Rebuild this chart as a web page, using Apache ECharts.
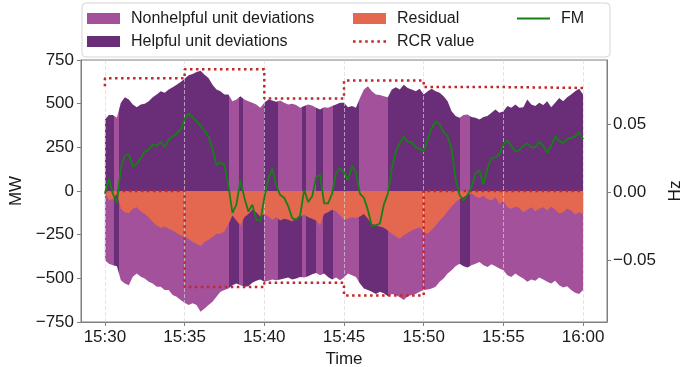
<!DOCTYPE html>
<html>
<head>
<meta charset="utf-8">
<script src="https://cdn.jsdelivr.net/npm/echarts@6/dist/echarts.min.js"></script>
<style>
  html, body { margin: 0; padding: 0; background: #fff; }
  #chart { width: 695px; height: 367px; }
</style>
</head>
<body>
<div id="chart"></div>
<script>
// sampled every 15 s from 15:30:00 to 16:00:00
const startTime = '15:30:00'
const stepSeconds = 15

const upperDeviation = [
  410, 435, 435, 420, 505, 537, 524, 495, 480, 495, 499, 514, 537, 552, 571, 562, 581, 594, 609, 624, 643, 662, 670, 681, 689, 666, 647, 609, 581, 571, 552,
  552, 514, 524, 543, 524, 514, 505, 495, 476, 505, 524, 518, 511, 518, 505, 495, 499, 492, 476, 486, 495, 490, 476, 467, 480, 476, 486, 495, 505,
  505, 480, 486, 476, 533, 581, 600, 571, 552, 549, 543, 537, 581, 594, 581, 609, 590, 581, 571, 586, 552, 571, 586, 571, 562, 543, 514, 457, 429, 420,
  435, 438, 423, 419, 410, 423, 429, 448, 467, 448, 457, 486, 476, 495, 476, 480, 524, 495, 486, 505, 492, 514, 480, 505, 533, 514, 537, 552, 571, 586, 552
]
const lowerDeviation = [
  -397, -416, -425, -431, -511, -529, -539, -491, -472, -491, -501, -520, -529, -548, -548, -567, -567, -596, -605, -624, -640, -653, -643, -653, -691, -672, -653, -634, -605, -577, -567,
  -558, -539, -529, -539, -548, -545, -526, -514, -507, -520, -514, -507, -511, -507, -501, -495, -507, -501, -492, -495, -488, -476, -469, -482, -473, -492, -507, -495, -511,
  -495, -473, -482, -492, -529, -558, -567, -577, -590, -577, -586, -602, -590, -596, -609, -624, -602, -596, -590, -577, -567, -564, -558, -548, -520, -501, -473, -454, -431, -416,
  -431, -438, -425, -416, -406, -425, -435, -419, -431, -444, -454, -482, -492, -473, -488, -501, -520, -507, -514, -495, -507, -520, -529, -514, -539, -552, -545, -567, -583, -590, -567
]
const residual = [
  -8, -51, -46, -17, -102, -121, -127, -102, -93, -116, -131, -150, -178, -197, -211, -203, -216, -226, -241, -254, -264, -273, -292, -302, -317, -292, -279, -264, -245, -245, -230,
  -190, -140, -169, -197, -150, -131, -108, -121, -146, -131, -146, -165, -150, -169, -159, -165, -173, -159, -146, -135, -150, -159, -169, -197, -131, -121, -108, -116, -140,
  -165, -159, -150, -154, -146, -131, -159, -188, -197, -203, -211, -226, -245, -260, -273, -254, -241, -226, -216, -207, -235, -245, -222, -197, -169, -146, -116, -89, -65, -46,
  -36, -21, -13, -32, -40, -27, -46, -55, -36, -74, -55, -93, -102, -89, -97, -121, -108, -93, -116, -102, -93, -112, -89, -108, -127, -121, -102, -112, -135, -121, -131
]
const fm = [
  -0.001, 0.010, -0.001, -0.008, 0.018, 0.027, 0.028, 0.019, 0.021, 0.025, 0.030, 0.031, 0.035, 0.034, 0.037, 0.033, 0.039, 0.041, 0.043, 0.046, 0.054, 0.058, 0.055, 0.052, 0.049, 0.045, 0.041, 0.032, 0.020, 0.022, 0.020,
  0.005, -0.015, -0.009, 0.009, -0.004, -0.014, -0.009, -0.020, -0.021, -0.004, 0.010, 0.0175, 0.005, -0.002, -0.004, -0.010, -0.019, -0.020, -0.017, 0.002, -0.007, -0.003, 0.011, 0.013, -0.008, -0.008, -0.001, 0.014, 0.0175,
  0.015, 0.009, 0.019, 0.015, -0.001, -0.004, -0.013, -0.025, -0.024, -0.023, -0.009, -0.001, 0.0175, 0.030, 0.036, 0.041, 0.037, 0.037, 0.033, 0.032, 0.030, 0.039, 0.047, 0.052, 0.050, 0.044, 0.041, 0.032, 0.010, -0.002,
  -0.006, -0.002, 0.004, 0.014, 0.016, 0.006, 0.0175, 0.025, 0.026, 0.028, 0.035, 0.038, 0.034, 0.030, 0.031, 0.034, 0.036, 0.033, 0.033, 0.037, 0.034, 0.029, 0.034, 0.041, 0.038, 0.036, 0.039, 0.040, 0.041, 0.044, 0.039
]

// minutes after 15:30 where upward deviations are helpful (downward ones are then nonhelpful)
const helpfulUpSpans = [
  [0, 0.55], [0.88, 7.77], [8.4, 8.65], [10.0, 10.87], [12.38, 12.62],
  [13.25, 13.7], [14.3, 15.92], [17.77, 22.25], [22.88, 30]
]

const rcrTimes = ['15:30:00', '15:30:00', '15:35:00', '15:40:00', '15:45:00', '15:50:00', '15:55:00', '16:00:00']
const rcrUp = [600, 645, 697, 530, 632, 595, 590, 590]
const rcrDown = [0, 0, -550, -526, -598, 0, 0, 0]

const xTickLabels = ['15:30', '15:35', '15:40', '15:45', '15:50', '15:55', '16:00']

const NONHELPFUL = '#a4519c'
const HELPFUL = '#6a2d77'
const RESIDUAL = '#e4684f'
const RCR = '#c0282d'
const FM = '#158015'
const FONT = '"Liberation Sans", Arial, sans-serif'

// legend glyphs: a dotted stroke and a plain stroke
const DOTTED_ICON = 'path://M0,0h2.5v2.5h-2.5zM6,0h2.5v2.5h-2.5zM12,0h2.5v2.5h-2.5zM18,0h2.5v2.5h-2.5zM24,0h2.5v2.5h-2.5zM30,0h2.5v2.5h-2.5z'
const LINE_ICON = 'path://M0,0h33v1.8h-33z'

const toSec = (s) => {
  const [h, m, sec] = s.split(':').map(Number)
  return h * 3600 + m * 60 + (sec || 0)
}
const fmtTime = (v) => {
  const h = Math.floor(v / 3600)
  const m = Math.round((v % 3600) / 60)
  return h + ':' + String(m).padStart(2, '0')
}
const minus = (s) => String(s).replace('-', '\u2212')

const t0 = toSec(startTime)
const times = upperDeviation.map((_, i) => t0 + i * stepSeconds)
const xMin = t0 - 90
const xMax = toSec('16:00:00') + 90
const tickSecs = xTickLabels.map((l) => toSec(l))

const pair = (arr) => arr.map((v, i) => [times[i], v])

function buildPieces(spanColor, otherColor) {
  const pieces = []
  let cursor = xMin
  helpfulUpSpans.forEach(([a, b]) => {
    const s = t0 + a * 60
    const e = t0 + b * 60
    if (s > cursor) pieces.push({ gte: cursor, lt: s, color: otherColor })
    pieces.push({ gte: s, lt: e, color: spanColor })
    cursor = e
  })
  pieces.push({ gte: cursor, lte: xMax, color: otherColor })
  return pieces
}

const chart = echarts.init(document.getElementById('chart'))

const areaSeries = (data, z) => ({
  type: 'line',
  data: pair(data),
  symbol: 'none',
  lineStyle: { width: 0 },
  areaStyle: { opacity: 1 },
  silent: true,
  z: z,
})

chart.setOption({
  animation: false,
  textStyle: { fontFamily: FONT },
  grid: {
    left: 81, right: 88, top: 60, bottom: 45,
    outerBoundsMode: 'none',
    containLabel: false,
    show: true, borderColor: '#7f7f7f', borderWidth: 1,
  },
  graphic: [{
    type: 'rect',
    shape: { x: 82, y: 3, width: 528, height: 54, r: 4 },
    style: { fill: 'none', stroke: '#d5d5d5', lineWidth: 1 },
    z: 0,
  }],
  legend: [
    {
      data: [
        { name: 'Nonhelpful unit deviations', icon: 'rect' },
        { name: 'Helpful unit deviations', icon: 'rect' },
      ],
      left: 87, top: 9,
    },
    {
      data: [
        { name: 'Residual', icon: 'rect' },
        { name: 'RCR value', icon: DOTTED_ICON },
      ],
      left: 353, top: 9,
    },
    {
      data: [{ name: 'FM', icon: LINE_ICON }],
      left: 517, top: 9,
    },
  ].map((l) => Object.assign({
    orient: 'vertical',
    padding: 0,
    itemWidth: 33,
    itemHeight: 11,
    itemGap: 4,
    selectedMode: false,
    textStyle: { fontFamily: FONT, fontSize: 16, color: '#1a1a1a', lineHeight: 19, padding: [0, 0, 0, 6] },
  }, l)),
  visualMap: [
    { type: 'piecewise', show: false, dimension: 0, seriesIndex: 0, pieces: buildPieces(HELPFUL, NONHELPFUL) },
    { type: 'piecewise', show: false, dimension: 0, seriesIndex: 1, pieces: buildPieces(NONHELPFUL, HELPFUL) },
  ],
  xAxis: {
    type: 'value',
    min: xMin,
    max: xMax,
    name: 'Time',
    nameLocation: 'middle',
    nameGap: 25,
    nameTextStyle: { fontSize: 17, color: '#1a1a1a' },
    axisLine: { show: true, onZero: false, lineStyle: { color: '#7f7f7f' } },
    axisTick: { show: true, length: 4, customValues: tickSecs, lineStyle: { color: '#7f7f7f' } },
    axisLabel: { customValues: tickSecs, formatter: fmtTime, fontSize: 17, color: '#1a1a1a', margin: 7 },
    splitLine: { show: false },
  },
  yAxis: [
    {
      type: 'value',
      min: -750,
      max: 750,
      interval: 250,
      name: 'MW',
      nameLocation: 'middle',
      nameGap: 47,
      nameRotate: 90,
      nameTextStyle: { fontSize: 17, color: '#1a1a1a' },
      axisLine: { show: true, lineStyle: { color: '#7f7f7f' } },
      axisTick: { show: true, length: 4, lineStyle: { color: '#7f7f7f' } },
      axisLabel: { fontSize: 17, color: '#1a1a1a', margin: 7, formatter: minus },
      splitLine: { show: false },
    },
    {
      type: 'value',
      position: 'right',
      min: -0.095,
      max: 0.097,
      name: 'Hz',
      nameLocation: 'middle',
      nameGap: 51,
      nameRotate: 90,
      nameTextStyle: { fontSize: 17, color: '#1a1a1a' },
      axisLine: { show: true, lineStyle: { color: '#7f7f7f' } },
      axisTick: { show: true, length: 4, customValues: [-0.05, 0, 0.05], lineStyle: { color: '#7f7f7f' } },
      axisLabel: {
        customValues: [-0.05, 0, 0.05],
        fontSize: 17, color: '#1a1a1a', margin: 6,
        formatter: (v) => minus(v.toFixed(2)),
      },
      splitLine: { show: false },
    },
  ],
  series: [
    areaSeries(upperDeviation, 2),
    areaSeries(lowerDeviation, 2),
    Object.assign(areaSeries(residual, 3), {
      name: 'Residual',
      itemStyle: { color: RESIDUAL },
      areaStyle: { color: RESIDUAL, opacity: 1 },
    }),
    {
      // vertical dashed guides at each labelled time
      type: 'line',
      data: [],
      silent: true,
      z: 4,
      markLine: {
        silent: true,
        symbol: 'none',
        label: { show: false },
        lineStyle: { color: 'rgba(215,215,215,0.65)', width: 1, type: [4, 2] },
        data: tickSecs.map((s) => ({ xAxis: s })),
      },
    },
    {
      name: 'RCR value',
      type: 'line',
      step: 'end',
      symbol: 'none',
      data: rcrTimes.map((t, i) => [toSec(t), rcrUp[i]]),
      itemStyle: { color: RCR },
      lineStyle: { color: RCR, width: 2.5, type: [2.5, 3.5] },
      z: 5,
    },
    {
      name: 'RCR value',
      type: 'line',
      step: 'end',
      symbol: 'none',
      data: rcrTimes.map((t, i) => [toSec(t), rcrDown[i]]),
      itemStyle: { color: RCR },
      lineStyle: { color: RCR, width: 2.5, type: [2.5, 3.5] },
      z: 5,
    },
    {
      name: 'FM',
      type: 'line',
      yAxisIndex: 1,
      symbol: 'none',
      data: pair(fm),
      itemStyle: { color: FM },
      lineStyle: { color: FM, width: 1.8 },
      z: 6,
    },
    { name: 'Nonhelpful unit deviations', type: 'bar', data: [], itemStyle: { color: NONHELPFUL } },
    { name: 'Helpful unit deviations', type: 'bar', data: [], itemStyle: { color: HELPFUL } },
  ],
})
</script>
</body>
</html>
